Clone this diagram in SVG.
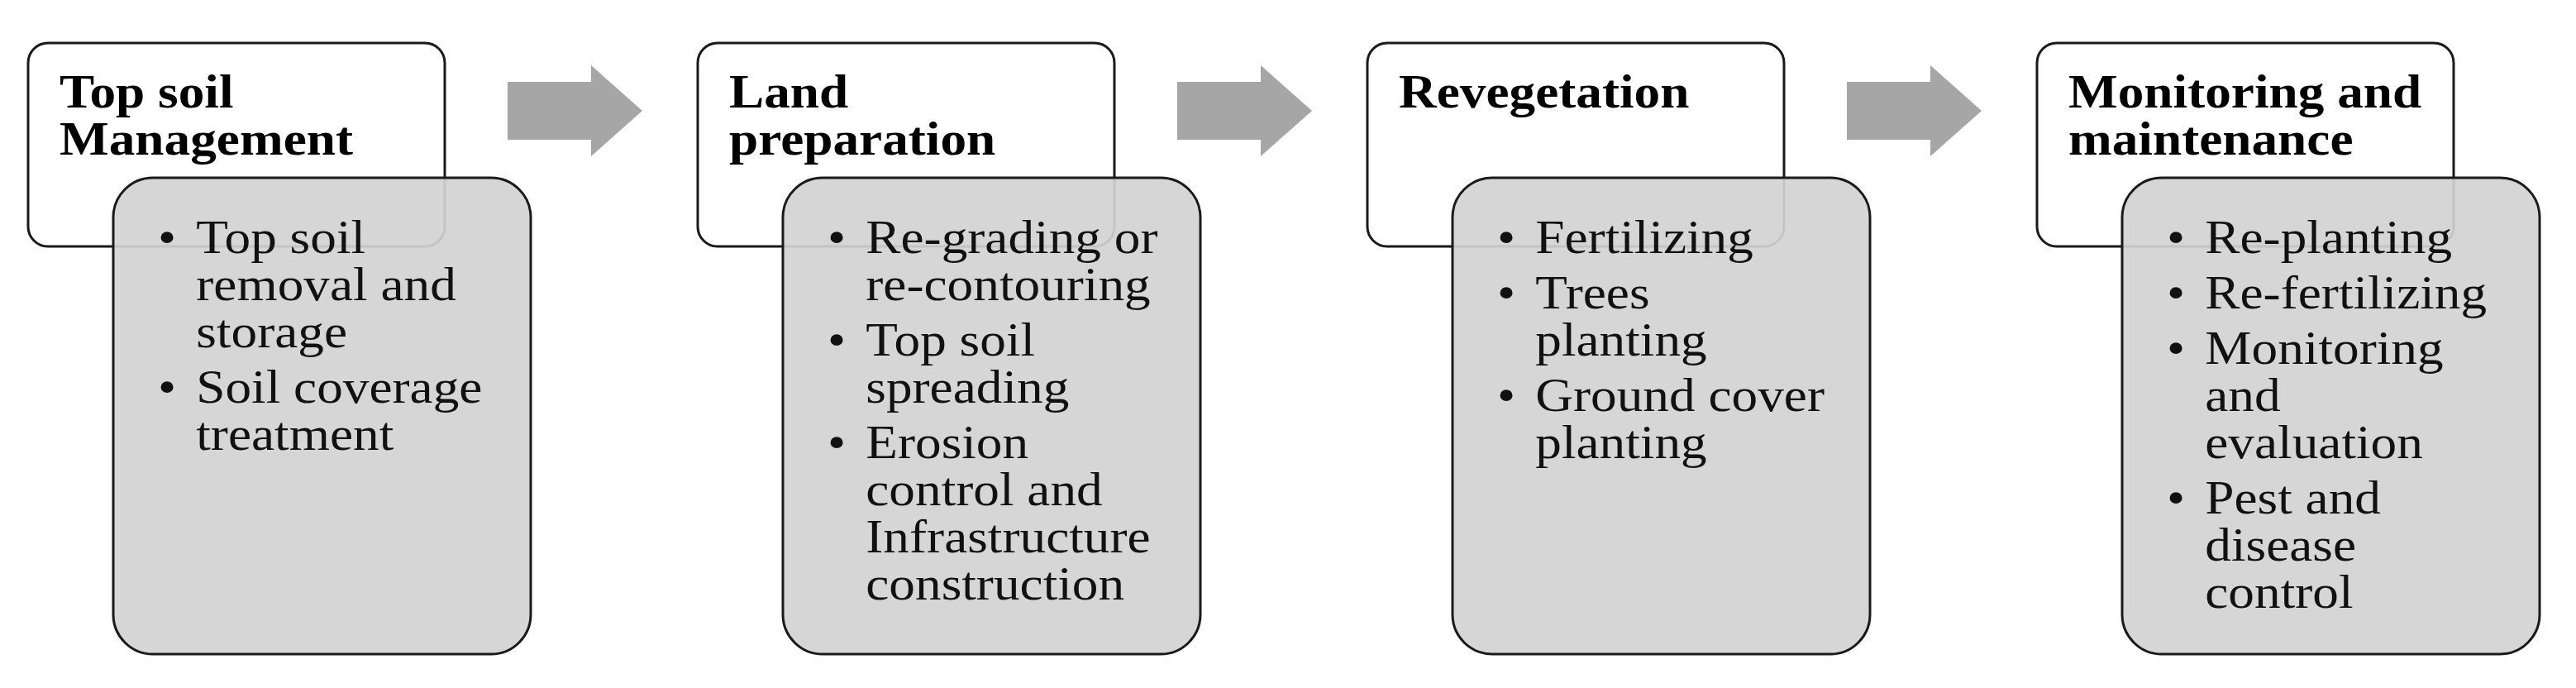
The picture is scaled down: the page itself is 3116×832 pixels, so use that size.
<svg xmlns="http://www.w3.org/2000/svg" width="3116" height="832" viewBox="0 0 3116 832">
<style>
.w{fill:#fff;stroke:#1a1a1a;stroke-width:3}
.g{fill:#d3d2d4;fill-opacity:0.92;stroke:#1a1a1a;stroke-width:3}
.t{font-family:"Liberation Serif",serif;font-weight:bold;font-size:56px;fill:#000}
.b{font-family:"Liberation Serif",serif;font-size:56px;fill:#111}
.a{fill:#a6a6a6}
</style>
<rect width="3116" height="832" fill="#fff"/>
<g id="connectors">
<polygon class="a" points="614,99 715,99 715,79 777,134 715,189 715,169 614,169"/>
<polygon class="a" points="1424,99 1525,99 1525,79 1587,134 1525,189 1525,169 1424,169"/>
<polygon class="a" points="2234,99 2335,99 2335,79 2397,134 2335,189 2335,169 2234,169"/>
</g>
<g id="n1">
<rect class="w" x="34" y="52" width="504" height="246" rx="24"/>
<rect class="g" x="137" y="215" width="505" height="576" rx="48"/>
<g transform="translate(72,0) scale(1.13,1)"><text class="t"><tspan x="0" y="130">Top soil</tspan><tspan x="0" y="187">Management</tspan></text></g>
<g transform="translate(200,0) scale(1.13,1)"><text class="b"><tspan x="-8" y="306">•</tspan><tspan x="33" y="306">Top soil</tspan><tspan x="33" y="363">removal and</tspan><tspan x="33" y="420">storage</tspan><tspan x="-8" y="487">•</tspan><tspan x="33" y="487">Soil coverage</tspan><tspan x="33" y="544">treatment</tspan></text></g>
</g>
<g id="n2">
<rect class="w" x="844" y="52" width="504" height="246" rx="24"/>
<rect class="g" x="947" y="215" width="505" height="576" rx="48"/>
<g transform="translate(882,0) scale(1.13,1)"><text class="t"><tspan x="0" y="130">Land</tspan><tspan x="0" y="187">preparation</tspan></text></g>
<g transform="translate(1010,0) scale(1.13,1)"><text class="b"><tspan x="-8" y="306">•</tspan><tspan x="33" y="306">Re-grading or</tspan><tspan x="33" y="363">re-contouring</tspan><tspan x="-8" y="430">•</tspan><tspan x="33" y="430">Top soil</tspan><tspan x="33" y="487">spreading</tspan><tspan x="-8" y="554">•</tspan><tspan x="33" y="554">Erosion</tspan><tspan x="33" y="611">control and</tspan><tspan x="33" y="668">Infrastructure</tspan><tspan x="33" y="725">construction</tspan></text></g>
</g>
<g id="n3">
<rect class="w" x="1654" y="52" width="504" height="246" rx="24"/>
<rect class="g" x="1757" y="215" width="505" height="576" rx="48"/>
<g transform="translate(1692,0) scale(1.13,1)"><text class="t"><tspan x="0" y="130">Revegetation</tspan></text></g>
<g transform="translate(1820,0) scale(1.13,1)"><text class="b"><tspan x="-8" y="306">•</tspan><tspan x="33" y="306">Fertilizing</tspan><tspan x="-8" y="373">•</tspan><tspan x="33" y="373">Trees</tspan><tspan x="33" y="430">planting</tspan><tspan x="-8" y="497">•</tspan><tspan x="33" y="497">Ground cover</tspan><tspan x="33" y="554">planting</tspan></text></g>
</g>
<g id="n4">
<rect class="w" x="2464" y="52" width="504" height="246" rx="24"/>
<rect class="g" x="2567" y="215" width="505" height="576" rx="48"/>
<g transform="translate(2502,0) scale(1.13,1)"><text class="t"><tspan x="0" y="130">Monitoring and</tspan><tspan x="0" y="187">maintenance</tspan></text></g>
<g transform="translate(2630,0) scale(1.13,1)"><text class="b"><tspan x="-8" y="306">•</tspan><tspan x="33" y="306">Re-planting</tspan><tspan x="-8" y="373">•</tspan><tspan x="33" y="373">Re-fertilizing</tspan><tspan x="-8" y="440">•</tspan><tspan x="33" y="440">Monitoring</tspan><tspan x="33" y="497">and</tspan><tspan x="33" y="554">evaluation</tspan><tspan x="-8" y="621">•</tspan><tspan x="33" y="621">Pest and</tspan><tspan x="33" y="678">disease</tspan><tspan x="33" y="735">control</tspan></text></g>
</g>
</svg>
